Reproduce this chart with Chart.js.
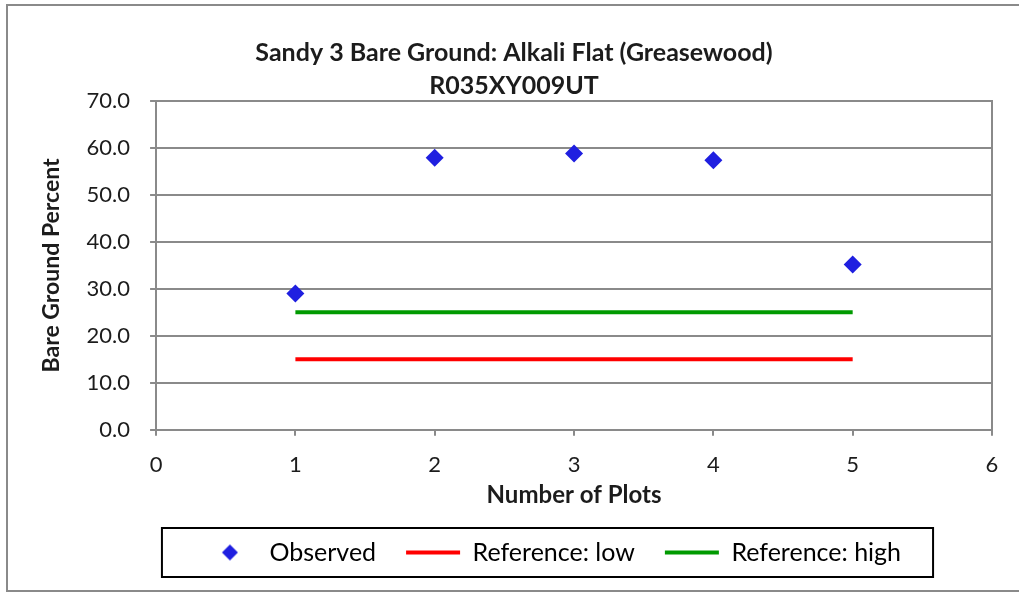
<!DOCTYPE html>
<html>
<head>
<meta charset="utf-8">
<script src="https://cdn.jsdelivr.net/npm/chart.js@4/dist/chart.umd.min.js"></script>
<style>
  html, body { margin: 0; padding: 0; background: #fff; }
  #wrap { width: 1019px; height: 594px; }
</style>
</head>
<body>
<div id="wrap"><canvas id="chart" width="1019" height="594"></canvas></div>
<script>
// values
const plotNumbers = [1, 2, 3, 4, 5];
const observed = [29.0, 57.9, 58.8, 57.4, 35.2];
const refLowX = [1, 5];
const refLow = [15, 15];
const refHighX = [1, 5];
const refHigh = [25, 25];
const titleLines = ['Sandy 3 Bare Ground: Alkali Flat (Greasewood)', 'R035XY009UT'];

const FONT = 'Lato, "Open Sans", sans-serif';
const TEXT = '#1c1c1c';
const GRID = '#8a8a8a';
const LEGEND_SHIFT = 38;

// small diamond used as the legend marker for the observed series
const diamond = document.createElement('canvas');
diamond.width = 54; diamond.height = 20;
(function () {
  const c = diamond.getContext('2d');
  c.fillStyle = '#1f1fe0';
  c.beginPath();
  c.moveTo(27, 2); c.lineTo(35, 10); c.lineTo(27, 18); c.lineTo(19, 10);
  c.closePath(); c.fill();
})();

const framePlugin = {
  id: 'frame',
  afterLayout(chart) {
    // the legend in the picture sits a bit right of the chart centre
    chart.legend.left += LEGEND_SHIFT;
    chart.legend.right += LEGEND_SHIFT;
  },
  beforeDraw(chart) {
    const ctx = chart.ctx;
    ctx.save();
    ctx.fillStyle = '#fff';
    ctx.fillRect(0, 0, chart.width, chart.height);
    ctx.strokeStyle = GRID;
    ctx.lineWidth = 2;
    ctx.strokeRect(7, 5, chart.width + 20, chart.height - 8);
    ctx.restore();
  },
  afterDraw(chart) {
    const lg = chart.legend;
    if (!lg || !lg.legendHitBoxes.length) return;
    const boxes = lg.legendHitBoxes;
    const left = Math.min(...boxes.map(b => b.left)) - 41;
    const right = Math.max(...boxes.map(b => b.left + b.width)) + 32;
    const top = Math.min(...boxes.map(b => b.top)) - 12;
    const bottom = Math.max(...boxes.map(b => b.top + b.height)) + 12;
    const ctx = chart.ctx;
    ctx.save();
    ctx.strokeStyle = '#000';
    ctx.lineWidth = 2;
    ctx.strokeRect(left, top, right - left, bottom - top);
    ctx.restore();
  }
};

new Chart(document.getElementById('chart'), {
  type: 'scatter',
  data: {
    datasets: [
      {
        label: 'Observed',
        data: plotNumbers.map((x, i) => ({ x, y: observed[i] })),
        pointStyle: 'rectRot',
        pointRadius: 9,
        pointHoverRadius: 9,
        backgroundColor: '#1f1fe0',
        borderColor: '#1f1fe0',
        borderWidth: 0,
        showLine: false
      },
      {
        label: 'Reference: low',
        data: refLowX.map((x, i) => ({ x, y: refLow[i] })),
        showLine: true,
        borderColor: '#ff0000',
        backgroundColor: '#ff0000',
        borderWidth: 4,
        pointRadius: 0
      },
      {
        label: 'Reference: high',
        data: refHighX.map((x, i) => ({ x, y: refHigh[i] })),
        showLine: true,
        borderColor: '#009a00',
        backgroundColor: '#009a00',
        borderWidth: 4,
        pointRadius: 0
      }
    ]
  },
  options: {
    responsive: false,
    animation: false,
    layout: { padding: { top: 36, left: 36, right: 27, bottom: 19 } },
    plugins: {
      title: {
        display: true,
        text: titleLines,
        color: TEXT,
        font: { family: FONT, size: 25, weight: 'bold', lineHeight: 1.32 },
        padding: { top: 0, bottom: -1 }
      },
      legend: {
        position: 'bottom',
        labels: {
          color: TEXT,
          font: { family: FONT, size: 25 },
          usePointStyle: true,
          pointStyleWidth: 54,
          padding: 30,
          generateLabels(chart) {
            return chart.data.datasets.map((ds, i) => ({
              text: ds.label,
              fillStyle: ds.borderColor,
              strokeStyle: ds.borderColor,
              lineWidth: 4,
              pointStyle: i === 0 ? diamond : 'line',
              datasetIndex: i,
              hidden: false
            }));
          }
        }
      },
      tooltip: { enabled: false }
    },
    scales: {
      x: {
        type: 'linear',
        min: 0,
        max: 6,
        ticks: { stepSize: 1, color: TEXT, font: { family: FONT, size: 22 }, padding: 16 },
        grid: { drawOnChartArea: false, color: GRID, lineWidth: 2, tickLength: 6 },
        border: { color: GRID, width: 2 },
        title: {
          display: true,
          text: 'Number of Plots',
          color: TEXT,
          font: { family: FONT, size: 24, weight: 'bold' },
          padding: { top: -13, bottom: 0 }
        }
      },
      y: {
        min: 0,
        max: 70,
        ticks: {
          stepSize: 10,
          color: TEXT,
          font: { family: FONT, size: 22 },
          padding: 20,
          callback: v => v.toFixed(1)
        },
        grid: { color: GRID, lineWidth: 2, tickLength: 6 },
        border: { color: GRID, width: 2 },
        title: {
          display: true,
          text: 'Bare Ground Percent',
          color: TEXT,
          font: { family: FONT, size: 23, weight: 'bold' },
          padding: { top: 2, bottom: 1 }
        }
      },
      yRight: {
        position: 'right',
        min: 0,
        max: 70,
        ticks: { display: false },
        grid: { drawOnChartArea: false, drawTicks: false },
        border: { color: GRID, width: 2 }
      }
    }
  },
  plugins: [framePlugin]
});
</script>
</body>
</html>
